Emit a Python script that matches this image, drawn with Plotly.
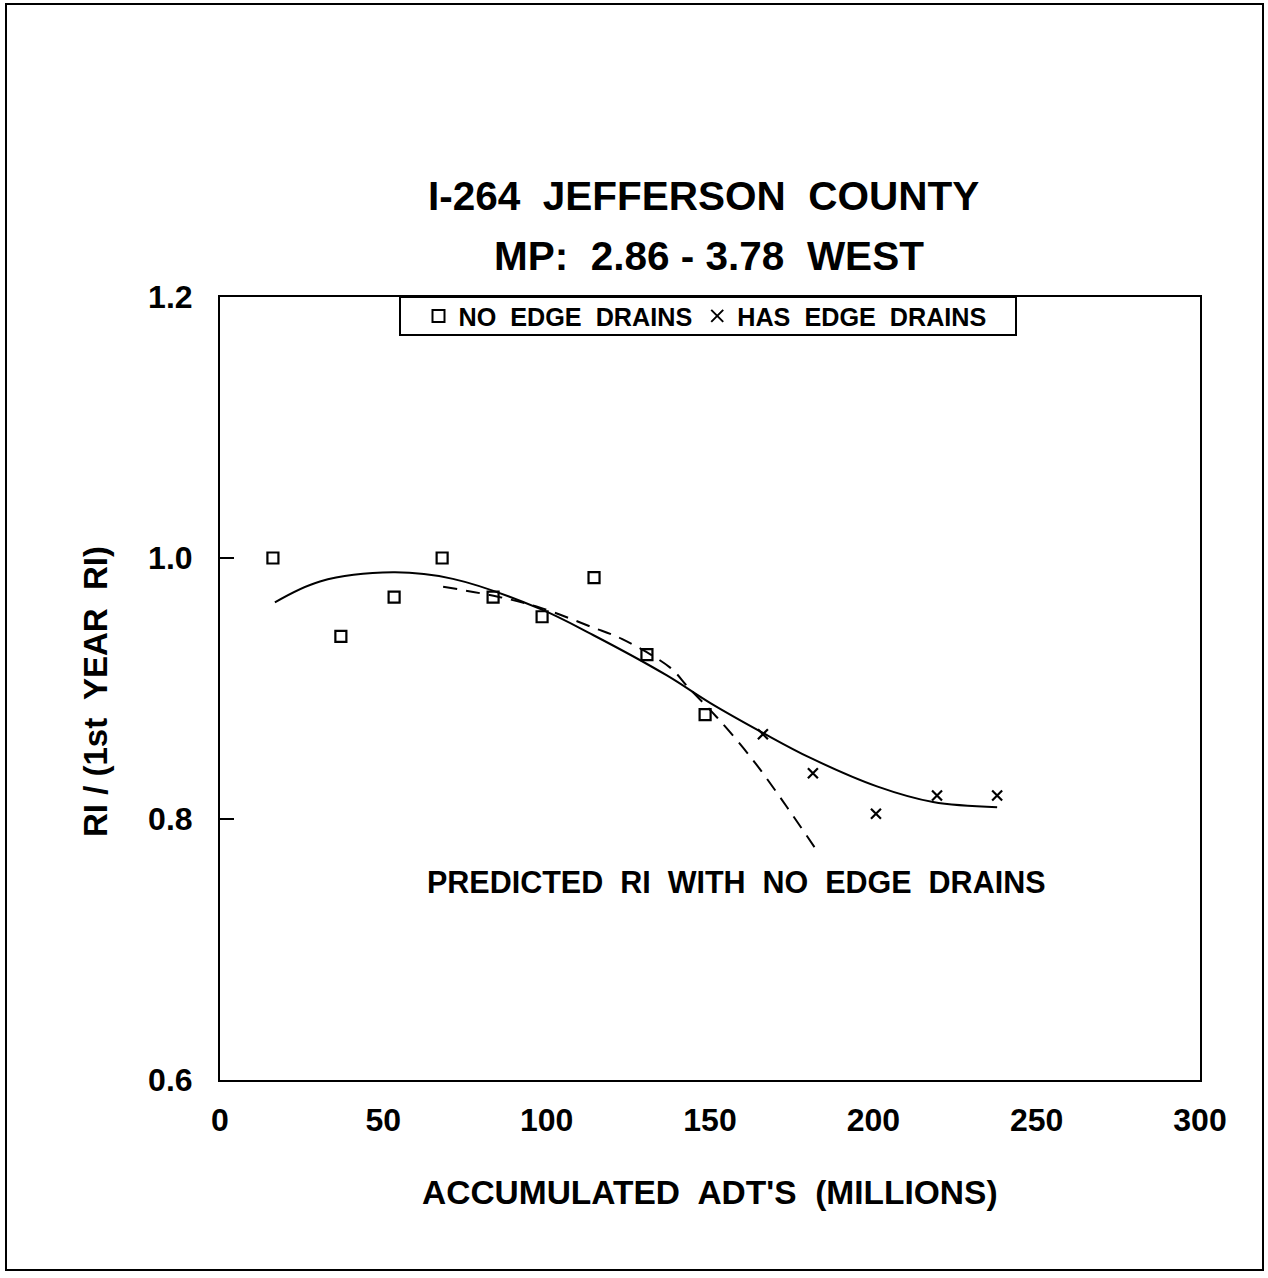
import plotly.graph_objects as go

# ---- data ----
no_drain_x = [16.2, 37.0, 53.3, 68.0, 83.6, 98.6, 114.5, 130.7, 148.5]
no_drain_y = [1.000, 0.940, 0.970, 1.000, 0.970, 0.955, 0.985, 0.926, 0.880]

has_drain_x = [166.2, 181.5, 200.8, 219.5, 237.9]
has_drain_y = [0.865, 0.835, 0.804, 0.818, 0.818]

fit_x = [16.8, 30.6, 53.0, 71.3, 98.0, 114.2, 136.8, 150.0, 166.2, 180.6, 201.1, 218.3, 237.9]
fit_y = [0.966, 0.982, 0.989, 0.984, 0.961, 0.941, 0.910, 0.889, 0.866, 0.847, 0.825, 0.813, 0.809]

pred_x = [68.3, 85.7, 98.0, 113.9, 123.0, 137.8, 143.3, 152.1, 163.2, 173.6, 182.1]
pred_y = [0.978, 0.970, 0.962, 0.947, 0.938, 0.916, 0.901, 0.878, 0.845, 0.809, 0.778]

x_ticks = [0, 50, 100, 150, 200, 250, 300]
y_ticks = [0.6, 0.8, 1.0, 1.2]
y_tick_labels = ["0.6", "0.8", "1.0", "1.2"]

title_1 = "I-264&nbsp; JEFFERSON&nbsp; COUNTY"
title_2 = "MP:&nbsp; 2.86 - 3.78&nbsp; WEST"
x_title = "ACCUMULATED&nbsp; ADT'S&nbsp; (MILLIONS)"
y_title = "RI / (1st&nbsp; YEAR&nbsp; RI)"
note = "PREDICTED&nbsp; RI&nbsp; WITH&nbsp; NO&nbsp; EDGE&nbsp; DRAINS"
legend_names = ["NO&nbsp; EDGE&nbsp; DRAINS", "HAS&nbsp; EDGE&nbsp; DRAINS"]

FONT = "Liberation Sans, Arial"

# ---- layout geometry (pixels) ----
W, H = 1268, 1278
L, R, T, B = 220, 1200, 297, 1080


def px(x):
    return (x - L) / (R - L)


def py(y):
    return (B - y) / (B - T)


fig = go.Figure()

fig.add_trace(go.Scatter(
    x=fit_x, y=fit_y, mode="lines", line=dict(color="black", width=2, shape="spline"),
    showlegend=False, hoverinfo="skip"))
fig.add_trace(go.Scatter(
    x=pred_x, y=pred_y, mode="lines",
    line=dict(color="black", width=2, shape="spline", dash="14px,9px"),
    showlegend=False, hoverinfo="skip"))
fig.add_trace(go.Scatter(
    x=no_drain_x, y=no_drain_y, mode="markers", name="<b>" + legend_names[0] + "</b>",
    marker=dict(symbol="square-open", size=11, color="black", line=dict(width=2.2))))
fig.add_trace(go.Scatter(
    x=has_drain_x, y=has_drain_y, mode="markers", name="<b>" + legend_names[1] + "</b>",
    marker=dict(symbol="x-thin-open", size=10, color="black", line=dict(width=2.2))))


def ann(text, x, y, size, angle=0):
    return dict(text="<b>" + text + "</b>", x=px(x), y=py(y), xref="paper", yref="paper",
                xanchor="center", yanchor="middle", showarrow=False, textangle=angle,
                font=dict(size=size, family=FONT, color="black"))


annotations = [
    ann(title_1, 703, 196, 40.5),
    ann(title_2, 709, 256, 40.5),
    ann(x_title, 710, 1192, 33.5),
    ann(y_title, 95, 692, 33, -90),
    ann(note, 736, 882, 30.5),
]

fig.update_layout(
    width=W, height=H,
    margin=dict(l=L, r=W - R, t=T, b=H - B),
    paper_bgcolor="white", plot_bgcolor="white",
    font=dict(family=FONT, color="black"),
    annotations=annotations,
    showlegend=True,
    legend=dict(orientation="h", x=px(705), xanchor="center", y=py(293), yanchor="top",
                bgcolor="rgba(0,0,0,0)", borderwidth=0,
                font=dict(size=25.2, family=FONT, color="black"),
                itemsizing="constant", tracegroupgap=0),
    shapes=[
        dict(type="rect", xref="paper", yref="paper",
             x0=px(6), x1=px(1263), y0=py(1270), y1=py(4),
             line=dict(color="black", width=2)),
        dict(type="rect", xref="paper", yref="paper",
             x0=px(400), x1=px(1016), y0=py(335), y1=py(297),
             fillcolor="white", line=dict(color="black", width=2)),
    ],
)

fig.update_xaxes(range=[0, 300], tickvals=x_ticks, ticktext=["<b>%d</b>" % v for v in x_ticks],
                 showgrid=False, zeroline=False, showline=True, mirror=True,
                 linecolor="black", linewidth=2, ticks="", ticklabelstandoff=11,
                 tickfont=dict(size=32, family=FONT, color="black"))
fig.update_yaxes(range=[0.6, 1.2], tickvals=y_ticks, ticktext=["<b>%s</b>" % t for t in y_tick_labels],
                 showgrid=False, zeroline=False, showline=True, mirror=True,
                 linecolor="black", linewidth=2, ticks="inside", ticklen=14, tickwidth=2,
                 tickcolor="black", ticklabelstandoff=19,
                 tickfont=dict(size=32, family=FONT, color="black"))

fig.write_html("out.html", config={"displayModeBar": False},
               post_script="document.body.style.margin='0px';")
